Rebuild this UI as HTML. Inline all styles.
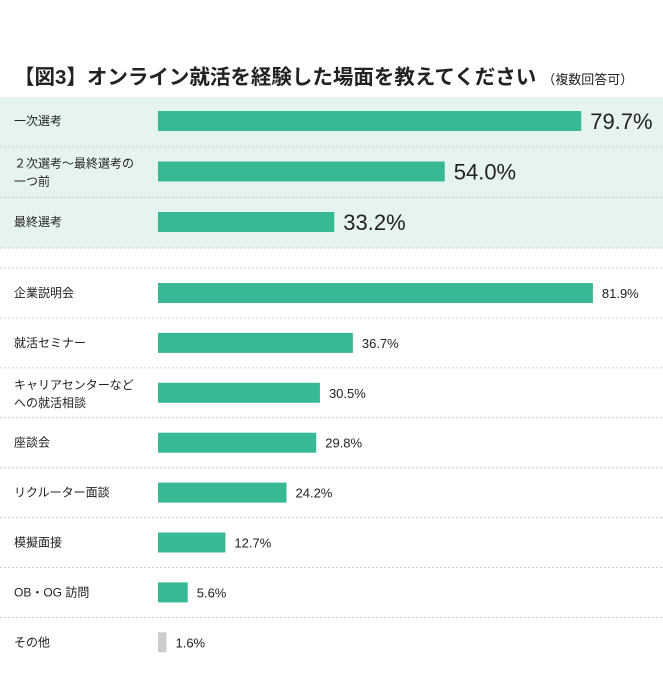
<!DOCTYPE html>
<html><head><meta charset="utf-8"><style>
body{margin:0;background:#fff;font-family:"Liberation Sans","Noto Sans CJK JP",sans-serif;}
#wrap{position:relative;width:663px;height:700px;overflow:hidden;}
.title{position:absolute;left:14px;top:60px;font-size:20.5px;font-weight:bold;color:#222;white-space:nowrap;}
.title small{font-size:13px;font-weight:normal;margin-left:6px;}
</style></head><body>
<div id="wrap">
<div class="title">【図3】オンライン就活を経験した場面を教えてください<small>（複数回答可）</small></div>
<svg id="svg" width="663" height="700" style="position:absolute;left:0;top:0"></svg>
</div>
<script>
const topCats=["一次選考","２次選考〜最終選考の|一つ前","最終選考"];
const topVals=[79.7,54.0,33.2];
const botCats=["企業説明会","就活セミナー","キャリアセンターなど|への就活相談","座談会","リクルーター面談","模擬面接","OB・OG 訪問","その他"];
const botVals=[81.9,36.7,30.5,29.8,24.2,12.7,5.6,1.6];
const svg=document.getElementById('svg');
const NS='http://www.w3.org/2000/svg';
const x0=158, scale=5.31;
function xw(v){return v*scale;}
function mk(t,a){const e=document.createElementNS(NS,t);for(const k in a)e.setAttribute(k,a[k]);svg.appendChild(e);return e;}
const bg=mk('rect',{x:0,y:97,width:663,height:151,fill:'#e5f4ef'});


function sep(y){const l=mk('line',{x1:0,x2:663,y1:y,y2:y,stroke:'#ccc','stroke-dasharray':'2,2'});

}
function label(txt,y){const parts=txt.split('|');
const t=mk('text',{x:14,y:0,'font-size':12,fill:'#222'});


parts.forEach((p,i)=>{const ts=document.createElementNS(NS,'tspan');ts.setAttribute('x',14);ts.setAttribute('y',parts.length>1?y-4+i*18:y+4);ts.textContent=p;t.appendChild(ts);});}
topCats.forEach((c,i)=>{const cy=121+i*50.5;
label(c,cy);
const b=mk('rect',{x:x0,y:cy-10,width:xw(topVals[i]),height:20,fill:'#37b996'});


const v=mk('text',{x:x0+xw(topVals[i])+9,y:cy+8,'font-size':22,fill:'#222'});v.textContent=topVals[i].toFixed(1)+'%';


sep(cy+26);});
sep(268);
botCats.forEach((c,i)=>{const cy=293+i*49.9;
label(c,cy);
const last=i===botCats.length-1;
const b=mk('rect',{x:x0,y:cy-10,width:xw(botVals[i]),height:20,fill:last?'#ccc':'#37b996'});


const v=mk('text',{x:x0+xw(botVals[i])+9,y:cy+5,'font-size':13,fill:'#222'});v.textContent=botVals[i].toFixed(1)+'%';


if(!last)sep(cy+25);});
</script>
</body></html>
